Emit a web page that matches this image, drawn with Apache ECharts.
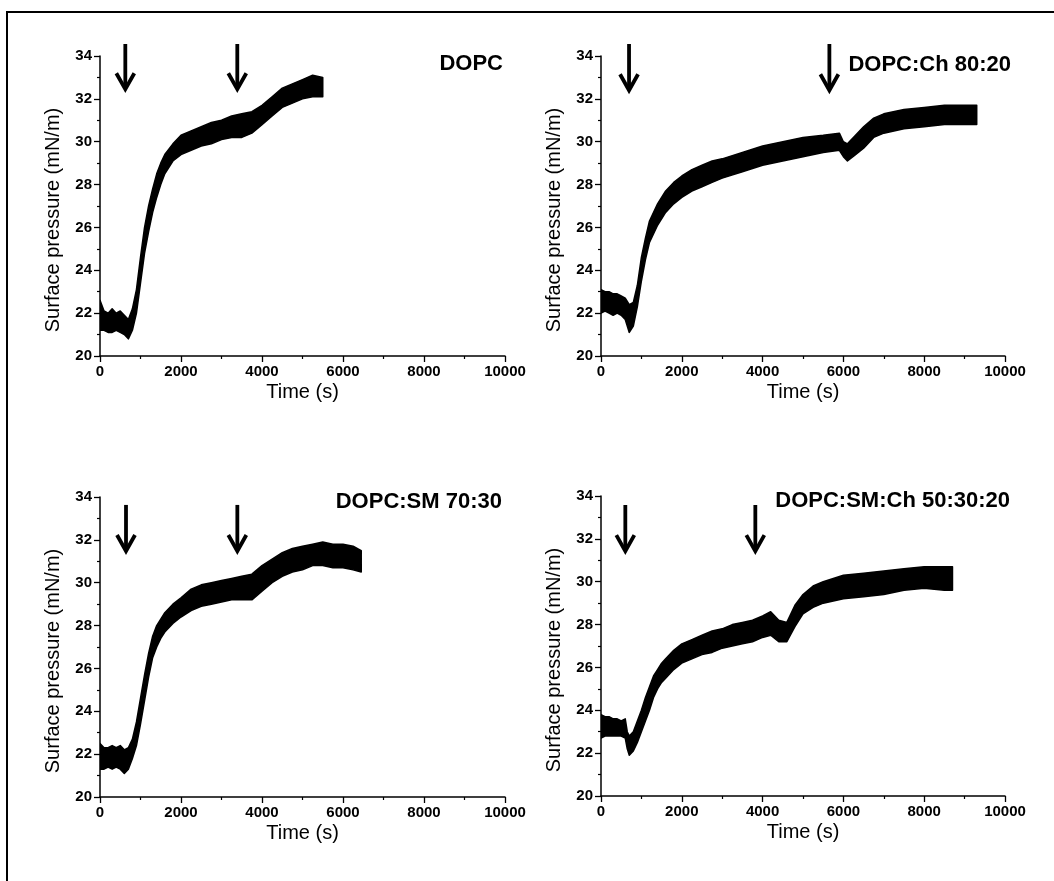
<!DOCTYPE html>
<html><head><meta charset="utf-8">
<script src="https://cdn.jsdelivr.net/npm/echarts@6/dist/echarts.min.js"></script>
<style>html,body{margin:0;padding:0;background:#fff}#c{width:1054px;height:881px}</style>
</head><body><div id="c"></div>
<script>
// ---- data ----
const panelTitles = ['DOPC', 'DOPC:Ch 80:20', 'DOPC:SM 70:30', 'DOPC:SM:Ch 50:30:20'];
const xAxisName = 'Time (s)';
const yAxisName = 'Surface pressure (mN/m)';
const xMin = 0, xMax = 10000, xStep = 2000;
const yMin = 20, yMax = 34, yStep = 2;

// DOPC: time (s), lower and upper edge of the noisy trace (mN/m)
const t1  = [0,100,200,300,400,500,600,700,800,900,1000,1100,1200,1300,1400,1500,1600,1800,2000,2250,2500,2750,3000,3250,3500,3750,4000,4250,4500,4750,5000,5250,5500];
const lo1 = [21.2,21.2,21.1,21.1,21.2,21.1,21.0,20.8,21.2,22.0,23.4,24.8,25.8,26.7,27.4,28.0,28.5,29.1,29.4,29.6,29.8,29.9,30.1,30.2,30.2,30.4,30.8,31.2,31.6,31.8,32.0,32.1,32.1];
const hi1 = [22.6,22.1,22.0,22.2,22.0,22.1,21.9,21.7,22.2,23.1,24.6,26.0,27.0,27.8,28.5,29.0,29.4,29.9,30.3,30.5,30.7,30.9,31.0,31.2,31.3,31.4,31.7,32.1,32.5,32.7,32.9,33.1,33.0];

// DOPC:Ch 80:20
const t2  = [0,100,200,300,400,500,600,700,800,900,1000,1100,1200,1400,1600,1800,2000,2250,2500,2750,3000,3500,4000,4500,5000,5500,5900,6000,6100,6300,6500,6750,7000,7500,8000,8500,9000,9300];
const lo2 = [22.0,22.1,22.0,21.9,22.0,21.9,21.7,21.1,21.4,22.3,23.5,24.5,25.3,26.1,26.7,27.1,27.4,27.7,27.9,28.1,28.3,28.6,28.9,29.1,29.3,29.5,29.6,29.3,29.1,29.4,29.7,30.2,30.4,30.6,30.7,30.8,30.8,30.8];
const hi2 = [23.1,23.0,23.0,22.9,22.9,22.8,22.7,22.4,22.5,23.3,24.6,25.5,26.3,27.1,27.7,28.1,28.4,28.7,28.9,29.1,29.2,29.5,29.8,30.0,30.2,30.3,30.4,30.0,29.9,30.3,30.7,31.1,31.3,31.5,31.6,31.7,31.7,31.7];

// DOPC:SM 70:30
const t3  = [0,100,200,300,400,500,600,700,800,900,1000,1100,1200,1300,1400,1500,1600,1800,2000,2250,2500,2750,3000,3250,3500,3750,4000,4250,4500,4750,5000,5250,5500,5750,6000,6250,6450];
const lo3 = [21.3,21.3,21.4,21.3,21.4,21.3,21.1,21.3,21.8,22.4,23.4,24.5,25.6,26.5,27.0,27.4,27.7,28.1,28.4,28.7,28.9,29.0,29.1,29.2,29.2,29.2,29.6,30.0,30.3,30.5,30.6,30.8,30.8,30.7,30.7,30.6,30.5];
const hi3 = [22.5,22.3,22.3,22.4,22.3,22.4,22.2,22.3,22.7,23.5,24.6,25.7,26.7,27.5,28.0,28.3,28.6,29.0,29.3,29.7,29.9,30.0,30.1,30.2,30.3,30.4,30.8,31.1,31.4,31.6,31.7,31.8,31.9,31.8,31.8,31.7,31.5];

// DOPC:SM:Ch 50:30:20
const t4  = [0,100,200,300,400,500,600,650,700,800,900,1000,1100,1200,1300,1400,1500,1600,1800,2000,2250,2500,2750,3000,3250,3500,3750,4000,4200,4400,4600,4800,5000,5250,5500,6000,6500,7000,7500,8000,8500,8700];
const lo4 = [22.7,22.8,22.8,22.8,22.8,22.8,22.7,22.2,21.9,22.1,22.5,23.0,23.5,24.0,24.6,25.0,25.3,25.5,25.9,26.2,26.4,26.6,26.7,26.9,27.0,27.1,27.2,27.4,27.5,27.2,27.2,27.9,28.5,28.8,29.0,29.2,29.3,29.4,29.6,29.7,29.6,29.6];
const hi4 = [23.8,23.7,23.7,23.6,23.6,23.5,23.6,23.0,22.8,23.0,23.5,24.0,24.6,25.1,25.6,25.9,26.2,26.4,26.8,27.1,27.3,27.5,27.7,27.8,28.0,28.1,28.2,28.4,28.6,28.2,28.1,28.9,29.4,29.8,30.0,30.3,30.4,30.5,30.6,30.7,30.7,30.7];

// injection arrows: times (s), top and tip values (mN/m)
const arrowTimes = [[625, 3390], [694, 5653], [642, 3391], [602, 3820]];
const arrowTop   = [34.56, 34.56, 33.63, 33.58];
const arrowTip   = [32.45, 32.40, 31.48, 31.43];

// ---- chart ----
const FONT = 'Liberation Sans, Arial, sans-serif';
const traces = [[t1, lo1, hi1], [t2, lo2, hi2], [t3, lo3, hi3], [t4, lo4, hi4]];
const grids = [
  {left: 100, top: 56, width: 405, height: 300},
  {left: 601, top: 56, width: 404, height: 300},
  {left: 100, top: 497, width: 405, height: 300},
  {left: 601, top: 496, width: 404, height: 300}
];
const titlePos = [
  {right: 551, top: 53}, {right: 43, top: 54}, {right: 552, top: 491}, {right: 44, top: 490}
];

const chart = echarts.init(document.getElementById('c'), null, {renderer: 'canvas'});

const axisCommon = {
  axisLine: {show: true, onZero: false, lineStyle: {color: '#000', width: 1.5}},
  axisTick: {show: true, inside: false, length: 6, lineStyle: {color: '#000', width: 1.3}},
  minorTick: {show: true, splitNumber: 2, length: 3, lineStyle: {color: '#000', width: 1.2}},
  splitLine: {show: false},
  axisLabel: {color: '#000', fontSize: 15, fontWeight: 'bold', fontFamily: FONT, margin: 8,
              formatter: v => String(v)},
  nameTextStyle: {color: '#000', fontSize: 20, fontFamily: FONT}
};

const xAxes = grids.map((g, i) => Object.assign({}, axisCommon, {
  type: 'value', gridIndex: i, min: xMin, max: xMax, interval: xStep,
  name: xAxisName, nameLocation: 'middle', nameGap: 26
}));
const yAxes = grids.map((g, i) => Object.assign({}, axisCommon, {
  type: 'value', gridIndex: i, min: yMin, max: yMax, interval: yStep,
  name: yAxisName, nameLocation: 'middle', nameGap: 37,
  nameTextStyle: Object.assign({}, axisCommon.nameTextStyle, {padding: [0, 28, 0, 0]})
}));

// each trace drawn as a filled band between its lower and upper edges
const series = traces.map(([t, lo, hi], i) => ({
  type: 'custom', xAxisIndex: i, yAxisIndex: i, coordinateSystem: 'cartesian2d',
  data: [[t[0], lo[0]]], encode: {x: 0, y: 1}, clip: true, animation: false,
  renderItem: (params, api) => {
    const pts = [];
    for (let k = 0; k < t.length; k++) pts.push(api.coord([t[k], hi[k]]));
    for (let k = t.length - 1; k >= 0; k--) pts.push(api.coord([t[k], lo[k]]));
    return {type: 'polygon', shape: {points: pts},
            style: {fill: '#000', stroke: '#000', lineWidth: 1.5, lineJoin: 'round'}};
  }
}));

chart.setOption({
  animation: false,
  backgroundColor: '#fff',
  grid: grids,
  xAxis: xAxes,
  yAxis: yAxes,
  title: panelTitles.map((txt, i) => ({
    text: txt, right: titlePos[i].right, top: titlePos[i].top, padding: 0,
    textStyle: {color: '#000', fontSize: 22, fontWeight: 'bold', fontFamily: FONT}
  })),
  series: series
});

// arrows and outer frame
const graphics = [{
  type: 'rect', shape: {x: 7, y: 12, width: 1200, height: 1200},
  style: {fill: 'none', stroke: '#000', lineWidth: 2}, z: 100
}];
arrowTimes.forEach((times, i) => {
  times.forEach(tm => {
    const p0 = chart.convertToPixel({gridIndex: i}, [tm, arrowTop[i]]);
    const p1 = chart.convertToPixel({gridIndex: i}, [tm, arrowTip[i]]);
    graphics.push({
      type: 'line', shape: {x1: p0[0], y1: p0[1], x2: p1[0], y2: p1[1] - 2},
      style: {stroke: '#000', lineWidth: 3.8}, z: 100
    });
    graphics.push({
      type: 'polyline', shape: {points: [[p1[0] - 9, p1[1] - 16], [p1[0], p1[1]], [p1[0] + 9, p1[1] - 16]]},
      style: {stroke: '#000', lineWidth: 3.8, fill: 'none', lineJoin: 'miter'}, z: 100
    });
  });
});
chart.setOption({graphic: graphics});
</script>
</body></html>
